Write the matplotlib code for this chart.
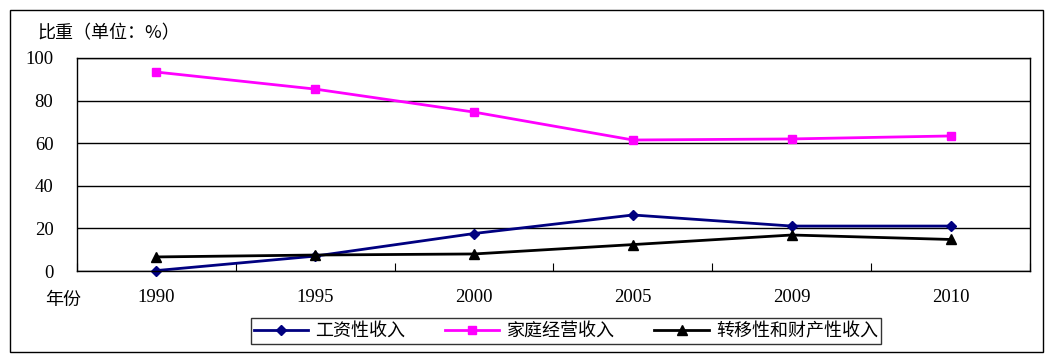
import matplotlib
matplotlib.use('Agg')
from matplotlib import pyplot as plt
from matplotlib.patches import Rectangle
import numpy as np

plt.rcParams['font.family'] = ['Noto Sans CJK SC', 'DejaVu Sans']

years = ['1990', '1995', '2000', '2005', '2009', '2010']
wage = [0.2, 7.0, 17.6, 26.3, 21.1, 21.1]
family = [93.4, 85.4, 74.6, 61.5, 62.0, 63.4]
transfer = [6.6, 7.5, 8.0, 12.4, 16.9, 14.8]

W, H = 1055, 363
fig = plt.figure(figsize=(W / 100, H / 100), dpi=100)

# outer chart border
fig.patches.append(Rectangle((10 / W, 1 - 352 / H), 1033 / W, 342 / H,
                             transform=fig.transFigure, fill=False,
                             edgecolor='black', linewidth=1))

ax = fig.add_axes([77 / W, 1 - 271 / H, 953 / W, 213 / H])
x = np.arange(len(years))

l1, = ax.plot(x, wage, color='#000080', lw=2, marker='D', ms=5, clip_on=False)
l2, = ax.plot(x, family, color='#ff00ff', lw=2, marker='s', ms=6, clip_on=False)
l3, = ax.plot(x, transfer, color='black', lw=2, marker='^', ms=7, clip_on=False)

ax.set_xlim(-0.5, len(years) - 0.5)
ax.set_ylim(0, 100)
ax.set_yticks(np.arange(0, 101, 20))
ax.set_yticklabels([str(v) for v in range(0, 101, 20)],
                   family='Liberation Serif', fontsize=13.5)
ax.tick_params(axis='y', length=0, pad=17)
ax.yaxis.grid(True, color='black', lw=1)
ax.set_axisbelow(True)

ax.set_xticks(np.arange(-0.5, len(years), 1.0))
ax.set_xticklabels([])
ax.tick_params(axis='x', which='major', direction='in', length=6, color='black')
ax.set_xticks(x, minor=True)
ax.set_xticklabels(years, minor=True, family='Liberation Serif', fontsize=13.5)
ax.tick_params(axis='x', which='minor', length=0, pad=13)

for s in ax.spines.values():
    s.set_linewidth(1)
    s.set_color('black')

fig.text(37 / W, 1 - 33 / H, '比重（单位：%）', fontsize=13, va='center', ha='left')
fig.text(45 / W, 1 - 300 / H, '年份', fontsize=13, va='center', ha='left')

leg = fig.legend([l1, l2, l3], ['工资性收入', '家庭经营收入', '转移性和财产性收入'],
                 loc='center', bbox_to_anchor=(566 / W, 1 - 331 / H), ncol=3,
                 fontsize=13, frameon=True, fancybox=False, handlelength=3,
                 columnspacing=2.2, borderpad=0.2, handletextpad=0.4)
leg.get_frame().set_edgecolor('black')
leg.get_frame().set_linewidth(1)

plt.savefig('out.png', dpi=100)
